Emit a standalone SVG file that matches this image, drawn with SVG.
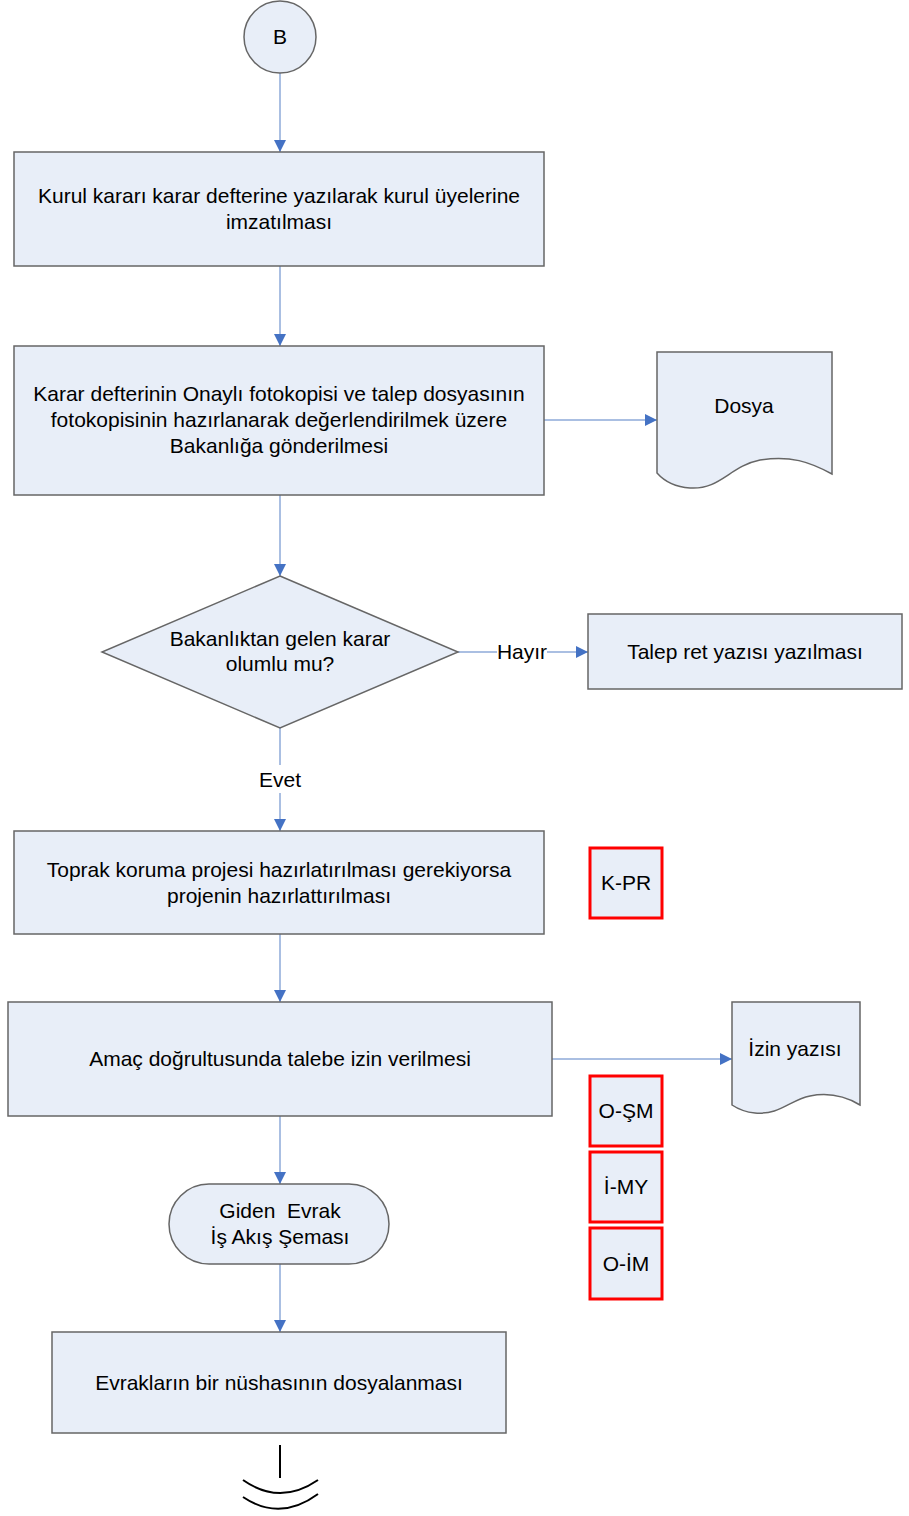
<svg xmlns="http://www.w3.org/2000/svg" width="909" height="1516" viewBox="0 0 909 1516">
<defs>
<marker id="ah" viewBox="0 0 12 12" refX="12" refY="6" markerWidth="12" markerHeight="12" markerUnits="userSpaceOnUse" orient="auto">
<path d="M0,0 L12,6 L0,12 Z" fill="#4472C4"/>
</marker>
<style>
.n{fill:#E8EEF8;stroke:#666;stroke-width:1.5}
.r{fill:#E8EEF8;stroke:#FF0000;stroke-width:3}
.c{fill:none;stroke:#8EAAD8;stroke-width:1.5}
.t{font-family:"Liberation Sans",Arial,sans-serif;font-size:21px;fill:#000;text-anchor:middle}
.lb{font-family:"Liberation Sans",Arial,sans-serif;font-size:21px;fill:#000;text-anchor:middle}
</style>
</defs>
<rect width="909" height="1516" fill="#fff"/>
<g id="connectors">
<line class="c" x1="280" y1="73" x2="280" y2="152" marker-end="url(#ah)"/>
<line class="c" x1="280" y1="266" x2="280" y2="346" marker-end="url(#ah)"/>
<line class="c" x1="544" y1="420" x2="657" y2="420" marker-end="url(#ah)"/>
<line class="c" x1="280" y1="495" x2="280" y2="576" marker-end="url(#ah)"/>
<line class="c" x1="458" y1="652" x2="497" y2="652"/>
<line class="c" x1="547" y1="652" x2="588" y2="652" marker-end="url(#ah)"/>
<text class="lb" x="522" y="659">Hayır</text>
<line class="c" x1="280" y1="728" x2="280" y2="765"/>
<line class="c" x1="280" y1="793" x2="280" y2="831" marker-end="url(#ah)"/>
<text class="lb" x="280" y="787">Evet</text>
<line class="c" x1="280" y1="934" x2="280" y2="1002" marker-end="url(#ah)"/>
<line class="c" x1="552" y1="1059" x2="732" y2="1059" marker-end="url(#ah)"/>
<line class="c" x1="280" y1="1116" x2="280" y2="1184" marker-end="url(#ah)"/>
<line class="c" x1="280" y1="1264" x2="280" y2="1332" marker-end="url(#ah)"/>
</g>
<g id="nB">
<circle class="n" cx="280" cy="37" r="36"/>
<text class="t" x="280" y="44">B</text>
</g>
<g id="n1">
<rect class="n" x="14" y="152" width="530" height="114"/>
<text class="t" x="279" y="203">Kurul kararı karar defterine yazılarak kurul üyelerine</text>
<text class="t" x="279" y="229">imzatılması</text>
</g>
<g id="n2">
<rect class="n" x="14" y="346" width="530" height="149"/>
<text class="t" x="279" y="401">Karar defterinin Onaylı fotokopisi ve talep dosyasının</text>
<text class="t" x="279" y="427">fotokopisinin hazırlanarak değerlendirilmek üzere</text>
<text class="t" x="279" y="453">Bakanlığa gönderilmesi</text>
</g>
<g id="nDosya">
<path class="n" d="M657,352 L832,352 L832,474 C810,462 790,455 760,460 C730,466 720,490 690,488 C675,487 665,482 657,473 Z"/>
<text class="t" x="744" y="413">Dosya</text>
</g>
<g id="nD">
<polygon class="n" points="280,576 458,652 280,728 102,652"/>
<text class="t" x="280" y="646">Bakanlıktan gelen karar</text>
<text class="t" x="280" y="671">olumlu mu?</text>
</g>
<g id="nRet">
<rect class="n" x="588" y="614" width="314" height="75"/>
<text class="t" x="745" y="659">Talep ret yazısı yazılması</text>
</g>
<g id="n3">
<rect class="n" x="14" y="831" width="530" height="103"/>
<text class="t" x="279" y="877">Toprak koruma projesi hazırlatırılması gerekiyorsa</text>
<text class="t" x="279" y="903">projenin hazırlattırılması</text>
</g>
<g id="nKPR">
<rect class="r" x="590" y="848" width="72" height="70"/>
<text class="t" x="626" y="890">K-PR</text>
</g>
<g id="n4">
<rect class="n" x="8" y="1002" width="544" height="114"/>
<text class="t" x="280" y="1066">Amaç doğrultusunda talebe izin verilmesi</text>
</g>
<g id="nIzin">
<path class="n" d="M732,1002 L860,1002 L860,1105 C845,1096 830,1092 810,1096 C790,1100 780,1115 755,1113 C745,1112 738,1109 732,1105 Z"/>
<text class="t" x="795" y="1056">İzin yazısı</text>
</g>
<g id="nOSM">
<rect class="r" x="590" y="1076" width="72" height="70"/>
<text class="t" x="626" y="1118">O-ŞM</text>
</g>
<g id="nIMY">
<rect class="r" x="590" y="1152" width="72" height="70"/>
<text class="t" x="626" y="1194">İ-MY</text>
</g>
<g id="nOIM">
<rect class="r" x="590" y="1228" width="72" height="71"/>
<text class="t" x="626" y="1271">O-İM</text>
</g>
<g id="nGiden">
<rect class="n" x="169" y="1184" width="220" height="80" rx="40" ry="40"/>
<text class="t" x="280" y="1218" xml:space="preserve">Giden  Evrak</text>
<text class="t" x="280" y="1244">İş Akış Şeması</text>
</g>
<g id="n5">
<rect class="n" x="52" y="1332" width="454" height="101"/>
<text class="t" x="279" y="1390">Evrakların bir nüshasının dosyalanması</text>
</g>
<g id="nEnd">
<line x1="280" y1="1445" x2="280" y2="1478" stroke="#000" stroke-width="2"/>
<path d="M243,1480 Q280,1506 318,1480" fill="none" stroke="#000" stroke-width="2"/>
<path d="M243,1497 Q280,1522 318,1494" fill="none" stroke="#000" stroke-width="2"/>
</g>
</svg>
